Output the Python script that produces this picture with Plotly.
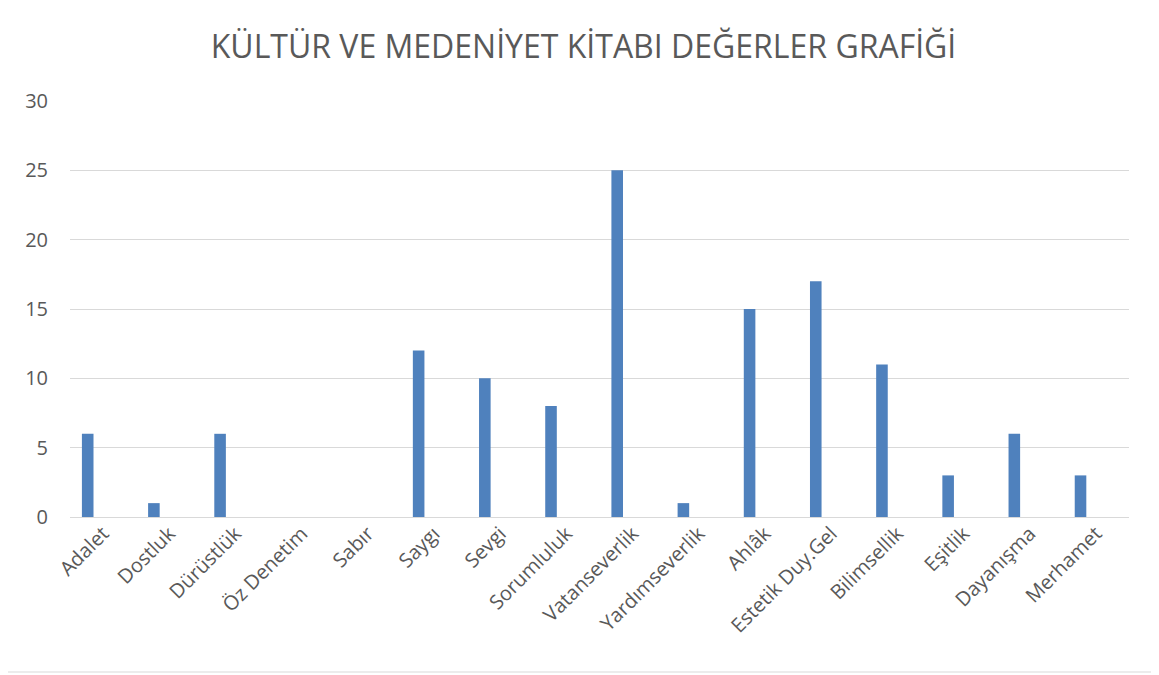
import plotly.graph_objects as go

categories = [
    "Adalet", "Dostluk", "Dürüstlük", "Öz Denetim", "Sabır", "Saygı", "Sevgi",
    "Sorumluluk", "Vatanseverlik", "Yardımseverlik", "Ahlâk", "Estetik Duy.Gel",
    "Bilimsellik", "Eşitlik", "Dayanışma", "Merhamet",
]
values = [6, 1, 6, 0, 0, 12, 10, 8, 25, 1, 15, 17, 11, 3, 6, 3]
y_ticks = [0, 5, 10, 15, 20, 25, 30]

# the page body adds an 8px margin, so the figure is shrunk by that much
W, H = 1151, 667
L, R, T, B = 62, 30, 93, 158
pw, ph = W - L - R, H - T - B

fig = go.Figure(
    go.Bar(
        x=categories,
        y=values,
        marker=dict(color="#4F81BD", line=dict(width=0)),
        width=0.175,
        offset=-0.32,
        hoverinfo="x+y",
    )
)

fig.update_layout(
    width=W,
    height=H,
    margin=dict(l=L, r=R, t=T, b=B),
    paper_bgcolor="white",
    plot_bgcolor="white",
    showlegend=False,
    font=dict(family="Open Sans", color="#595959"),
    title=dict(
        text="KÜLTÜR VE MEDENİYET KİTABI DEĞERLER GRAFİĞİ",
        x=0.5,
        xanchor="center",
        y=1 - 39 / H,
        yanchor="middle",
        font=dict(size=32, color="#595959", family="Open Sans"),
    ),
    xaxis=dict(
        type="category",
        tickangle=-45,
        tickfont=dict(size=20, color="#595959"),
        showgrid=False,
        showline=False,
        ticks="",
        range=[-0.5, len(categories) - 0.5],
    ),
    yaxis=dict(
        range=[0, 30],
        tickvals=y_ticks,
        tickfont=dict(size=20, color="#595959"),
        showgrid=True,
        gridcolor="#D9D9D9",
        gridwidth=1,
        zeroline=True,
        zerolinecolor="#D9D9D9",
        zerolinewidth=1,
        showline=False,
        ticks="",
        ticklabelstandoff=21,
    ),
)

# outer chart frame (right and bottom edges fall inside the figure)
fx1 = (1145 - L) / pw
fy0 = -(664 - (T + ph)) / ph
fig.add_shape(type="line", xref="paper", yref="paper",
              x0=fx1, x1=fx1, y0=fy0, y1=1 + T / ph,
              line=dict(color="#D9D9D9", width=1))
fig.add_shape(type="line", xref="paper", yref="paper",
              x0=-L / pw, x1=fx1, y0=fy0, y1=fy0,
              line=dict(color="#D9D9D9", width=1))

fig.write_html("out.html")
